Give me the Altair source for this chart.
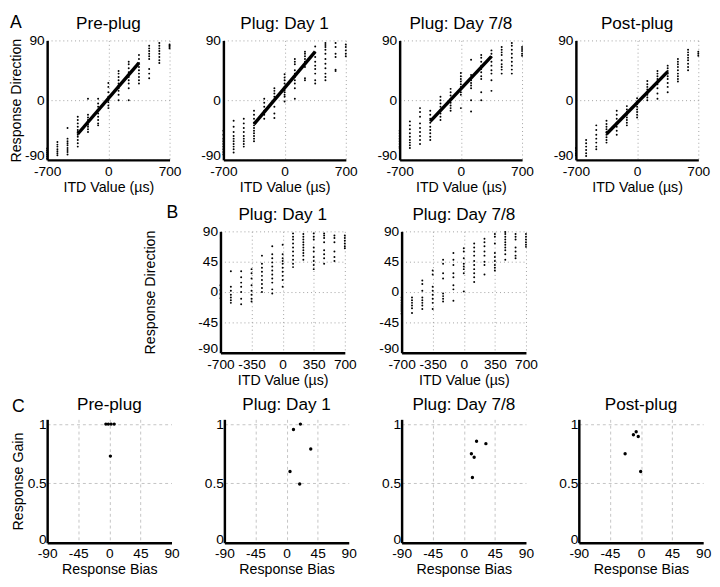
import altair as alt
import pandas as pd

FONT = "Liberation Sans"

ITD = [-700, -583, -467, -350, -233, -117, 0, 117, 233, 350, 467, 583, 700]

PRE_PLUG = [
    [-73, -76, -79, -82, -85, -88],
    [-63, -67, -70, -74, -77, -80, -83],
    [-42, -58, -62, -65, -68, -72, -75, -78, -82],
    [-25, -30, -35, -40, -45, -48, -52, -55, -60, -65, -70],
    [2, -22, -26, -30, -33, -37, -40, -44, -48],
    [2, -5, -10, -15, -20, -25, -30, -35, -38],
    [26, 20, 12, 5, 0, -3, -8, -12],
    [44, 40, 35, 30, 25, 22, 18, 14, 8, 0],
    [58, 54, 48, 42, 35, 30, 25, 18, 0],
    [68, 62, 56, 50, 45, 40, 35, 30, 25],
    [82, 78, 74, 70, 66, 62, 47, 40, 33],
    [86, 82, 78, 74, 70, 65, 60, 56],
    [84, 82, 80, 78],
]
PLUG_DAY1 = [
    [-46, -52, -58, -62, -66, -70, -74, -78, -82],
    [-31, -40, -48, -54, -58, -62, -66, -70, -74, -79],
    [-28, -35, -42, -48, -54, -58, -62, -66, -70],
    [-16, -22, -28, -34, -38, -42, -46, -50, -54, -58, -62],
    [2, -4, -10, -16, -22, -28],
    [18, 14, 10, 5, -10, -20, -27],
    [39, 34, 30, 25, 20, 15, 12, 8, 5, -2],
    [62, 58, 54, 45, 40, 35, 30, 25, 18, 2],
    [73, 70, 66, 62, 58, 54, 50, 33, 30],
    [81, 72, 65, 58, 52, 47, 40, 30, 25],
    [86, 83, 80, 76, 70, 62, 55, 48, 40, 35, 30],
    [86, 80, 70, 65, 46, 44],
    [84, 80, 75, 70, 66],
]
PLUG_DAY78 = [
    [-46, -50, -54, -58, -62, -66, -70, -72],
    [-32, -38, -44, -50, -55, -60, -64, -68, -72],
    [-12, -18, -25, -35, -42, -48, -54, -60, -66],
    [-16, -22, -28, -34, -40, -45, -50, -55, -60],
    [5, 0, -5, -10, -15, -20, -25, -30],
    [17, 12, 7, 2, -4, -8, -12, -16],
    [41, 36, 32, 28, 24, 20, 16, 12, 8, -12],
    [61, 38, 34, 30, 26, 22, 18, 0, -17],
    [68, 64, 58, 52, 47, 42, 36, 32, 12, 0],
    [75, 70, 65, 58, 52, 45, 40, 30, 14],
    [80, 76, 72, 68, 60, 54, 50, 46, 40],
    [86, 82, 76, 70, 64, 58, 52, 46, 40],
    [80, 77, 74, 70, 67],
]
POST_PLUG = [
    [-72, -76, -80, -83],
    [-60, -65, -70, -75, -80, -84],
    [-38, -45, -52, -58, -64, -70, -74],
    [-31, -36, -40, -44, -48, -52, -56, -60, -64],
    [-16, -22, -28, -34, -40, -46, -52],
    [-9, -14, -18, -22, -26, -30, -34, -38],
    [3, -2, -6, -10, -14, -18, -22, -26],
    [29, 24, 20, 16, 12, 8, 4, 0],
    [44, 40, 36, 32, 28, 24, 18, 10, 2],
    [52, 48, 44, 40, 36, 32, 26, 20, 12],
    [62, 58, 54, 50, 45, 40, 36, 32, 28],
    [76, 72, 68, 64, 60, 55, 50, 45],
    [73, 70, 67],
]
B_DAY1 = [
    [10, 3, -3, -9],
    [31, 8, 2, -4, -8, -12, -16],
    [31, 22, 14, 8, 0, -10, -18],
    [34, 28, 20, 10, 2, -4, -10, -14],
    [54, 42, 36, 30, 24, 18, 12, 6, 0],
    [68, 56, 50, 44, 38, 32, 26, 20, 14, 4, -2],
    [70, 56, 50, 46, 42, 36, 30, 24, 18, 8],
    [87, 82, 78, 72, 66, 60, 54, 48, 42, 37],
    [86, 82, 78, 74, 70, 66, 62, 58, 54, 48],
    [87, 82, 78, 66, 60, 52, 46, 40, 34],
    [87, 84, 80, 74, 62, 56, 50, 42],
    [84, 80, 74, 60, 52, 46],
    [84, 80, 76, 72, 68, 65],
]
B_DAY78 = [
    [-8, -12, -16, -19, -22, -25, -28, -32],
    [-8, -12, -16, -20, -24, -31],
    [17, 12, 2, -8, -12, -16, -20, -25],
    [32, 26, 8, 2, -4, -10, -16, -25],
    [48, 42, 28, 20, -2, -6, -10, -14],
    [58, 48, 40, 28, 22, 10, 4, -13],
    [65, 60, 50, 42, 38, 34, 28, 1],
    [72, 66, 60, 54, 46, 40, 34, 28, 22, 15],
    [79, 74, 68, 60, 54, 45, 40, 26],
    [86, 82, 72, 58, 52, 46, 40, 36, 32],
    [89, 86, 82, 78, 74, 70, 66, 62, 56, 48],
    [86, 82, 78, 66, 60, 54, 50],
    [86, 82, 78, 74, 70, 67],
]

FIT_ITD = [-350, 350]
FIT_PRE = [-51, 56]
FIT_DAY1 = [-36, 73]
FIT_DAY78 = [-32, 66]
FIT_POST = [-51, 43]

C_PRE_BIAS = [-5, -1.5, 2.5, 7, 1.5]
C_PRE_GAIN = [1.0, 1.0, 1.0, 1.0, 0.73]
C_DAY1_BIAS = [20, 10, 35, 5, 19]
C_DAY1_GAIN = [1.0, 0.955, 0.79, 0.60, 0.495]
C_DAY78_BIAS = [18.5, 32, 11, 15, 12.5]
C_DAY78_GAIN = [0.855, 0.835, 0.75, 0.72, 0.55]
C_POST_BIAS = [-11, -7, -4, -23, -0.5]
C_POST_GAIN = [0.91, 0.935, 0.895, 0.75, 0.60]

ITD_TICKS = [-700, -350, 0, 350, 700]
DIR_TICKS = [-90, -45, 0, 45, 90]
BIAS_TICKS = [-90, -45, 0, 45, 90]
GAIN_TICKS = [0, 0.5, 1]

LBL = 14
TTL = 14.5
HEAD = 17.5


def axis_kw(**extra):
    kw = dict(
        labelFont=FONT, titleFont=FONT, labelFontSize=LBL, titleFontSize=TTL,
        labelColor="black", titleColor="black", titleFontWeight="normal",
        domainColor="black", domainWidth=2.5, ticks=False, grid=True,
        labelFlush=False, labelOverlap=False, labelExpr="datum.value + ''",
    )
    kw.update(extra)
    return kw


def text_layer(txt, x, y, size, align):
    return alt.Chart(pd.DataFrame({"t": [txt]})).mark_text(
        font=FONT, fontSize=size, align=align, baseline="alphabetic", color="black"
    ).encode(x=alt.value(x), y=alt.value(y), text="t:N")


def itd_panel(title, cols, fit=None, ytitle=None, letter=None, w=125, h=122, ytp=1, ylp=3):
    rows = [{"itd": x, "dir": v} for x, vals in zip(ITD, cols) for v in vals]
    df = pd.DataFrame(rows)
    xax = alt.Axis(values=ITD_TICKS, title="ITD Value (µs)", labelPadding=5, titlePadding=2,
                   gridColor="#a0a0a0", gridDash=[1, 3], gridWidth=1, **axis_kw())
    yax = alt.Axis(values=DIR_TICKS, title=ytitle, labelPadding=ylp, titlePadding=ytp,
                   gridColor="#a0a0a0", gridDash=[1, 3], gridWidth=1,
                   labelOffset={"condition": {"test": "datum.value === -90", "value": -4}, "value": 0},
                   **axis_kw())
    xs = alt.Scale(domain=[-700, 700], nice=False, zero=False)
    ys = alt.Scale(domain=[-90, 90], nice=False, zero=False)
    pts = alt.Chart(df).mark_circle(size=4, color="black", opacity=1).encode(
        x=alt.X("itd:Q", scale=xs, axis=xax),
        y=alt.Y("dir:Q", scale=ys, axis=yax),
    )
    layers = [pts]
    if fit is not None:
        fdf = pd.DataFrame({"itd": FIT_ITD, "dir": fit})
        layers.append(alt.Chart(fdf).mark_line(color="black", strokeWidth=3.5).encode(
            x=alt.X("itd:Q", scale=xs), y=alt.Y("dir:Q", scale=ys)))
    layers.append(text_layer(title, w / 2, -12, HEAD, "center"))
    if letter is not None:
        layers.append(text_layer(letter[0], letter[1], letter[2], 18, "left"))
    return alt.layer(*layers).properties(width=w, height=h)


def c_panel(title, bias, gain, ytitle=None, letter=None, w=127, h=126):
    df = pd.DataFrame({"bias": bias, "gain": gain})
    xax = alt.Axis(values=BIAS_TICKS, title="Response Bias", labelPadding=4, titlePadding=2,
                   gridColor="#c4c4c4", gridDash=[3, 3], gridWidth=1,
                   gridOpacity={"condition": {"test": "datum.value >= 90", "value": 0}, "value": 1},
                   **axis_kw())
    yax = alt.Axis(values=GAIN_TICKS, title=ytitle, labelPadding=1, titlePadding=2,
                   gridColor="#c4c4c4", gridDash=[3, 3], gridWidth=1,
                   labelOffset={"condition": {"test": "datum.value === 0", "value": -3}, "value": 0},
                   **axis_kw())
    pts = alt.Chart(df).mark_circle(size=12, color="black", opacity=1).encode(
        x=alt.X("bias:Q", scale=alt.Scale(domain=[-90, 90], nice=False, zero=False), axis=xax),
        y=alt.Y("gain:Q", scale=alt.Scale(domain=[0, 1.04], nice=False, zero=False), axis=yax),
    )
    layers = [pts, text_layer(title, w / 2, -9.5, HEAD, "center")]
    if letter is not None:
        layers.append(text_layer(letter[0], letter[1], letter[2], 18, "left"))
    return alt.layer(*layers).properties(width=w, height=h)


row_a = alt.hconcat(
    itd_panel("Pre-plug", PRE_PLUG, FIT_PRE, ytitle="Response Direction", letter=("A", -38, -13)),
    itd_panel("Plug: Day 1", PLUG_DAY1, FIT_DAY1),
    itd_panel("Plug: Day 7/8", PLUG_DAY78, FIT_DAY78),
    itd_panel("Post-plug", POST_PLUG, FIT_POST),
    spacing=18,
)

spacer = alt.Chart(pd.DataFrame({"a": [0]})).mark_point(opacity=0).encode(
    x=alt.X("a:Q", axis=None), y=alt.Y("a:Q", axis=None)
).properties(width=75, height=124)

row_b = alt.hconcat(
    spacer,
    itd_panel("Plug: Day 1", B_DAY1, ytitle="Response Direction", letter=("B", -55, -14),
              w=127, h=124, ytp=41),
    itd_panel("Plug: Day 7/8", B_DAY78, w=127, h=124),
    spacing=21,
)

row_c = alt.hconcat(
    c_panel("Pre-plug", C_PRE_BIAS, C_PRE_GAIN, ytitle="Response Gain", letter=("C", -36, -8)),
    c_panel("Plug: Day 1", C_DAY1_BIAS, C_DAY1_GAIN),
    c_panel("Plug: Day 7/8", C_DAY78_BIAS, C_DAY78_GAIN),
    c_panel("Post-plug", C_POST_BIAS, C_POST_GAIN),
    spacing=24,
)

chart = alt.vconcat(row_a, row_b, row_c, spacing=9).properties(
    padding={"left": 0, "top": -1, "right": 0, "bottom": 0}, background="white"
).configure_view(stroke="transparent")

chart.save("out.html", embed_options={"renderer": "svg", "actions": False})
